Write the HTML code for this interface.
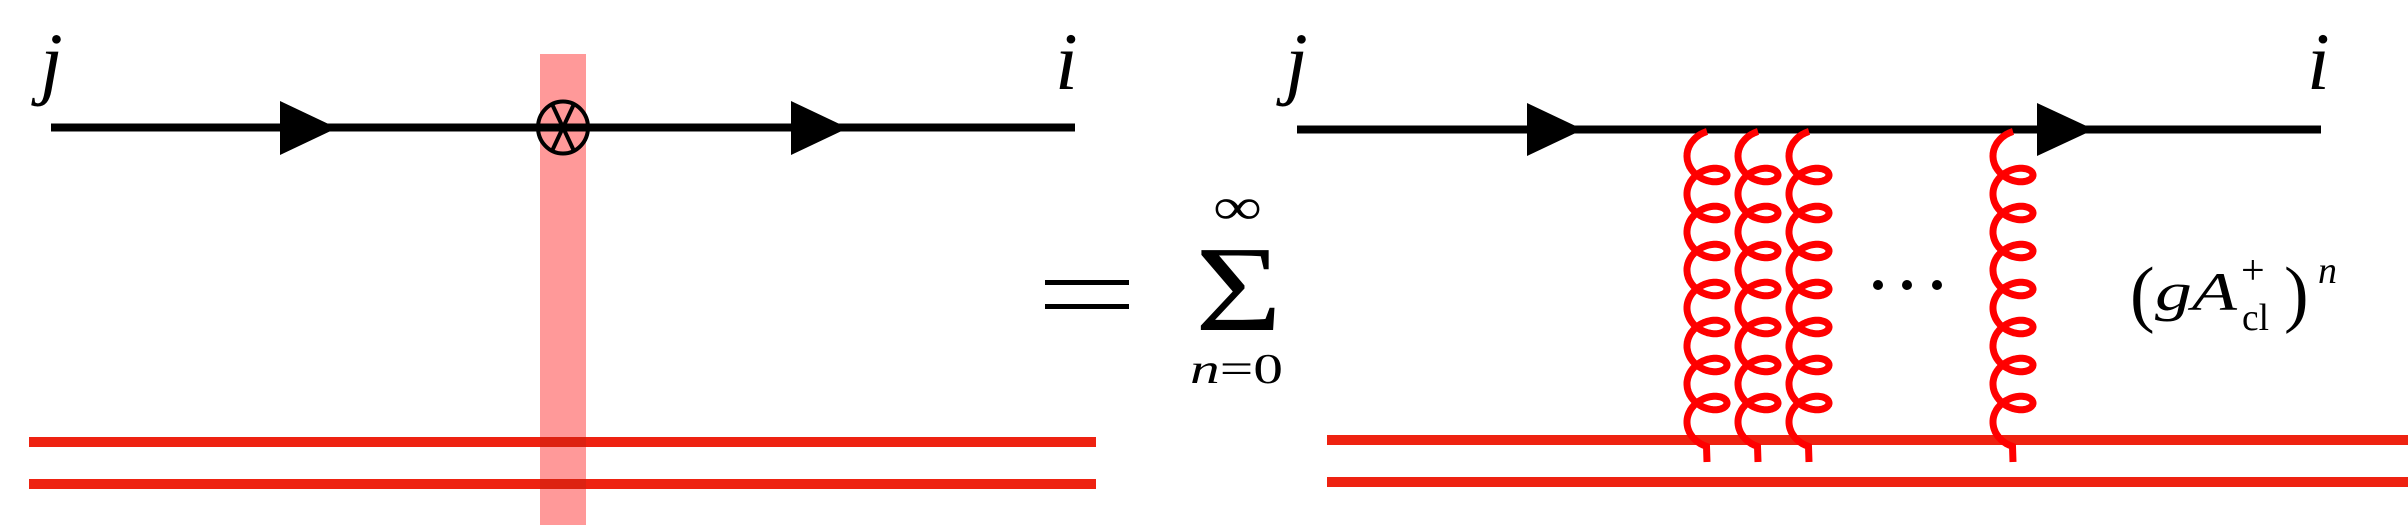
<!DOCTYPE html>
<html><head><style>html,body{margin:0;padding:0;background:#fff}svg{display:block}text{font-family:"Liberation Serif","DejaVu Serif",serif}</style></head>
<body>
<svg id="s" width="2408" height="525" viewBox="0 0 2408 525" xmlns="http://www.w3.org/2000/svg">
<rect x="540" y="54" width="46" height="471" fill="#ff9999"/>
<rect x="29" y="437" width="1067" height="10" fill="#ee2211"/>
<rect x="29" y="479" width="1067" height="10" fill="#ee2211"/>
<rect x="540" y="437" width="46" height="10" fill="#dd2211"/>
<rect x="540" y="479" width="46" height="10" fill="#dd2211"/>
<rect x="51" y="123.5" width="1024" height="8" fill="#000"/>
<polygon points="280,101 337,128 280,155" fill="#000"/>
<polygon points="791,101 848,128 791,155" fill="#000"/>
<ellipse cx="563" cy="127.5" rx="25" ry="26" fill="none" stroke="#000" stroke-width="4"/>
<line x1="552" y1="104" x2="574" y2="151" stroke="#000" stroke-width="4"/>
<line x1="574" y1="104" x2="552" y2="151" stroke="#000" stroke-width="4"/>
<text x="40" y="89" font-size="82" font-style="italic">j</text>
<text x="1055" y="89" font-size="82" font-style="italic">i</text>
<rect x="1045" y="280" width="84" height="5" fill="#000"/>
<rect x="1045" y="304" width="84" height="5" fill="#000"/>
<text x="1213" y="224" font-size="52" textLength="49" lengthAdjust="spacingAndGlyphs">∞</text>
<text x="1195" y="330" font-size="122" textLength="87" lengthAdjust="spacingAndGlyphs">Σ</text>
<text x="1190" y="383" font-size="42" textLength="93" lengthAdjust="spacingAndGlyphs"><tspan font-style="italic">n</tspan>=0</text>
<rect x="1327" y="435" width="1081" height="10" fill="#ee2211"/>
<rect x="1327" y="477" width="1081" height="10" fill="#ee2211"/>
<rect x="1297" y="125.5" width="1024" height="8" fill="#000"/>
<polygon points="1527,103 1583,129.5 1527,156" fill="#000"/>
<polygon points="2037,103 2094,129.5 2037,156" fill="#000"/>
<g id="gl" fill="none" stroke="#ff0000" stroke-width="7"></g>
<circle cx="1878" cy="285" r="5" fill="#000"/>
<circle cx="1907" cy="285" r="5" fill="#000"/>
<circle cx="1937" cy="285" r="5" fill="#000"/>
<text x="1285" y="89" font-size="82" font-style="italic">j</text>
<text x="2307" y="89" font-size="82" font-style="italic">i</text>
<text x="2130" y="318" font-size="74">(</text>
<text x="2155" y="310" font-size="54" font-style="italic" textLength="82" lengthAdjust="spacingAndGlyphs">gA</text>
<text x="2241" y="284" font-size="42">+</text>
<text x="2242" y="330" font-size="38" textLength="27" lengthAdjust="spacingAndGlyphs">cl</text>
<text x="2284" y="318" font-size="74">)</text>
<text x="2318" y="283" font-size="38" font-style="italic">n</text>
</svg>
<script>
(function(){
  var g=document.getElementById('gl');
  var centers=[1707,1758,1809,2013];
  var a=20,b=15,s=38,yc=156;
  centers.forEach(function(cx){
    var pts=[];
    for(var t=-Math.PI/2;t<=14*Math.PI+Math.PI/2+1e-6;t+=0.05){
      var x=cx-a*Math.cos(t);
      var y=yc+s*t/(2*Math.PI)+b*Math.sin(t);
      pts.push(x.toFixed(1)+','+y.toFixed(1));
    }
    var d='M'+pts.join(' L')+' L'+cx+',462';
    var p=document.createElementNS('http://www.w3.org/2000/svg','path');
    p.setAttribute('d',d);
    g.appendChild(p);
  });
})();
</script>
</body></html>
